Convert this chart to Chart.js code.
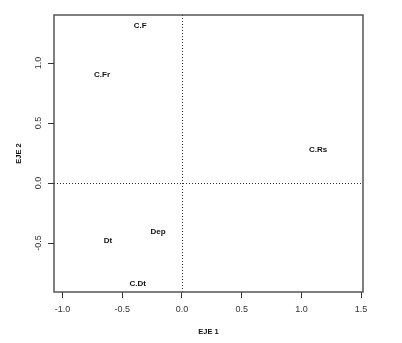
<!DOCTYPE html>
<html>
<head>
<meta charset="utf-8">
<script src="https://cdn.jsdelivr.net/npm/chart.js@4"></script>
<style>
  html, body { margin: 0; padding: 0; background: #fff; }
  #wrap { width: 402px; height: 343px; }
</style>
</head>
<body>
<div id="wrap"><canvas id="chart" width="402" height="343"></canvas></div>
<script>
// Points of the plane (EJE 1 / EJE 2)
const labels = ["C.F", "C.Fr", "C.Rs", "Dep", "Dt", "C.Dt"];
const eje1 = [-0.35, -0.67, 1.14, -0.20, -0.62, -0.37];
const eje2 = [1.31, 0.90, 0.275, -0.41, -0.485, -0.84];
const xTicks = [-1.0, -0.5, 0.0, 0.5, 1.0, 1.5];
const yTicks = [-0.5, 0.0, 0.5, 1.0];

const axisColor = "#555";

// frame, zero lines, y ticks (rotated labels), titles and point names
const extras = {
  id: "extras",
  beforeDatasetsDraw(chart) {
    const ctx = chart.ctx;
    const a = chart.chartArea;
    const x = chart.scales.x, y = chart.scales.y;
    ctx.save();
    ctx.strokeStyle = "#333";
    ctx.lineWidth = 1;
    ctx.setLineDash([1, 2]);
    const x0 = Math.round(x.getPixelForValue(0)) + 0.5;
    const y0 = Math.round(y.getPixelForValue(0)) + 0.5;
    ctx.beginPath();
    ctx.moveTo(x0, a.top); ctx.lineTo(x0, a.bottom);
    ctx.moveTo(a.left, y0); ctx.lineTo(a.right, y0);
    ctx.stroke();
    ctx.setLineDash([]);
    ctx.strokeStyle = axisColor;
    ctx.lineWidth = 1.5;
    ctx.strokeRect(a.left, a.top, a.right - a.left, a.bottom - a.top);
    ctx.restore();
  },
  afterDatasetsDraw(chart) {
    const ctx = chart.ctx;
    const a = chart.chartArea;
    const y = chart.scales.y;
    ctx.save();
    // y tick marks
    ctx.strokeStyle = "#333";
    ctx.lineWidth = 1;
    ctx.beginPath();
    yTicks.forEach(v => {
      const py = Math.round(y.getPixelForValue(v)) + 0.5;
      ctx.moveTo(a.left, py);
      ctx.lineTo(a.left - 6, py);
    });
    ctx.stroke();
    // y tick labels, rotated like R's default
    ctx.fillStyle = "#333";
    ctx.font = "9px 'Liberation Sans', Arial, sans-serif";
    ctx.textAlign = "center";
    ctx.textBaseline = "middle";
    yTicks.forEach(v => {
      ctx.save();
      ctx.translate(39, y.getPixelForValue(v));
      ctx.rotate(-Math.PI / 2);
      ctx.fillText(v.toFixed(1), 0, 0);
      ctx.restore();
    });
    // axis titles
    ctx.fillStyle = "#111";
    ctx.font = "bold 7.5px 'Liberation Sans', Arial, sans-serif";
    ctx.fillText("EJE 1", (a.left + a.right) / 2, 332);
    ctx.save();
    ctx.translate(19, (a.top + a.bottom) / 2);
    ctx.rotate(-Math.PI / 2);
    ctx.fillText("EJE 2", 0, 0);
    ctx.restore();
    // point names at their positions
    ctx.font = "bold 8px 'Liberation Sans', Arial, sans-serif";
    const meta = chart.getDatasetMeta(0);
    meta.data.forEach((pt, i) => {
      ctx.fillText(labels[i], pt.x, pt.y);
    });
    ctx.restore();
  }
};

new Chart(document.getElementById("chart"), {
  type: "scatter",
  data: {
    datasets: [{
      data: eje1.map((v, i) => ({ x: v, y: eje2[i] })),
      pointRadius: 0,
      pointHoverRadius: 0
    }]
  },
  options: {
    responsive: false,
    animation: false,
    layout: { padding: { top: 15, right: 39, bottom: 0, left: 0 } },
    plugins: { legend: { display: false }, tooltip: { enabled: false } },
    scales: {
      x: {
        min: -1.072,
        max: 1.516,
        afterBuildTicks: s => { s.ticks = xTicks.map(v => ({ value: v })); },
        afterFit: s => { s.height = 51; },
        grid: { drawOnChartArea: false, drawTicks: true, tickLength: 6, tickColor: "#333", tickWidth: 1 },
        border: { display: false },
        ticks: {
          color: "#333",
          padding: 6,
          maxRotation: 0,
          font: { family: "'Liberation Sans', Arial, sans-serif", size: 9 },
          callback: v => Number(v).toFixed(1)
        }
      },
      y: {
        min: -0.908,
        max: 1.4,
        afterBuildTicks: s => { s.ticks = yTicks.map(v => ({ value: v })); },
        afterFit: s => { s.width = 54; },
        grid: { display: false },
        border: { display: false },
        // labels and marks drawn by the plugin
        ticks: { display: false }
      }
    }
  },
  plugins: [extras]
});
</script>
</body>
</html>
